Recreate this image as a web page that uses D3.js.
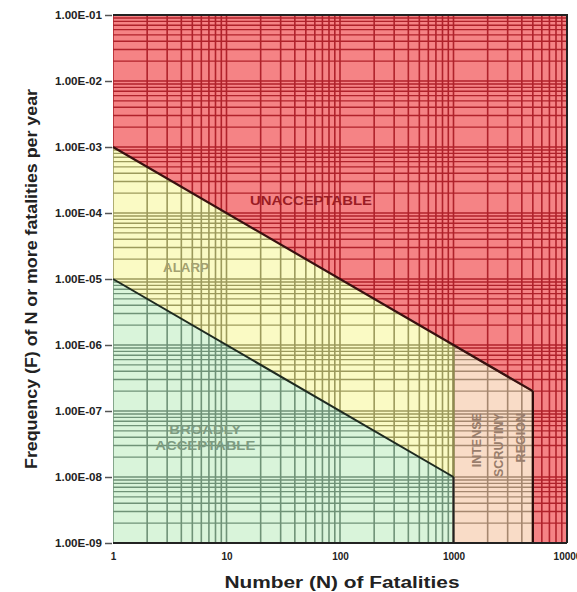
<!DOCTYPE html>
<html>
<head>
<meta charset="utf-8">
<script src="https://cdn.jsdelivr.net/npm/d3@7"></script>
<style>
  body { margin: 0; background: #fff; }
  text { font-family: "Liberation Sans", Arial, sans-serif; }
</style>
</head>
<body>
<div id="chart"></div>
<script>
// axis ticks
const xTicks = [1, 10, 100, 1000, 10000];
const xTickLabels = ["1", "10", "100", "1000", "10000"];
const yTicks = [1e-1, 1e-2, 1e-3, 1e-4, 1e-5, 1e-6, 1e-7, 1e-8, 1e-9];
const yTickLabels = ["1.00E-01", "1.00E-02", "1.00E-03", "1.00E-04", "1.00E-05",
                     "1.00E-06", "1.00E-07", "1.00E-08", "1.00E-09"];

// criterion lines (N, F)
const upperLine = [[1, 1e-3], [1000, 1e-6], [5000, 2e-7]];
const lowerLine = [[1, 1e-5], [1000, 1e-8]];

// zone outlines (N, F)
const unacceptableZone = [[1, 1e-1], [10000, 1e-1], [10000, 1e-9], [5000, 1e-9], [5000, 2e-7], [1000, 1e-6], [1, 1e-3]];
const alarpZone = [[1, 1e-3], [1000, 1e-6], [1000, 1e-8], [1, 1e-5]];
const broadlyZone = [[1, 1e-5], [1000, 1e-8], [1000, 1e-9], [1, 1e-9]];
const intenseZone = [[1000, 1e-6], [5000, 2e-7], [5000, 1e-9], [1000, 1e-9]];

const zoneNames = ["unacceptable", "alarp", "broadly", "intense"];
const zonePolys = [unacceptableZone, alarpZone, broadlyZone, intenseZone];

const W = 577, H = 592;
const margin = {top: 15, right: 10, bottom: 49, left: 113};

const svg = d3.select("#chart").append("svg")
    .attr("width", W)
    .attr("height", H);

const x = d3.scaleLog().domain([1, 10000]).range([margin.left, 567]);
const y = d3.scaleLog().domain([1e-9, 1e-1]).range([543, margin.top]);

// style per zone
const zoneStyle = {
    unacceptable: {fill: "#f58385", grid: "#b0222b"},
    alarp:        {fill: "#fafac4", grid: "#9c9a5c"},
    broadly:      {fill: "#d9f4da", grid: "#6f9277"},
    intense:      {fill: "#f9dcc7", grid: "#a5876f"}
};

// log grid positions
const gridX = [], gridY = [];
for (let e = 0; e < 4; e++) for (let m = 1; m < 10; m++) gridX.push(m * Math.pow(10, e));
gridX.push(10000);
for (let e = -9; e < -1; e++) for (let m = 1; m < 10; m++) gridY.push(m * Math.pow(10, e));
gridY.push(1e-1);

const poly = pts => "M" + pts.map(p => x(p[0]) + "," + y(p[1])).join("L") + "Z";

const defs = svg.append("defs");

zoneNames.forEach((name, i) => {
    defs.append("clipPath").attr("id", "clip-" + name)
        .append("path").attr("d", poly(zonePolys[i]));

    let g = svg.append("g").attr("clip-path", `url(#clip-${name})`);
    let st = zoneStyle[name];

    g.append("path")
        .attr("d", poly(zonePolys[i]))
        .attr("fill", st.fill);

    g.selectAll(".gx").data(gridX).enter().append("line")
        .attr("x1", d => x(d)).attr("x2", d => x(d))
        .attr("y1", y(1e-9)).attr("y2", y(1e-1))
        .attr("stroke", st.grid)
        .attr("stroke-width", 1.6);

    g.selectAll(".gy").data(gridY).enter().append("line")
        .attr("x1", x(1)).attr("x2", x(10000))
        .attr("y1", d => y(d)).attr("y2", d => y(d))
        .attr("stroke", st.grid)
        .attr("stroke-width", 1.4);
});

// zone borders
svg.append("path")
    .attr("d", poly(intenseZone))
    .attr("fill", "none")
    .attr("stroke", "#8f7a62")
    .attr("stroke-width", 2);

svg.append("line")
    .attr("x1", x(1000)).attr("x2", x(1000))
    .attr("y1", y(1e-6)).attr("y2", y(1e-8))
    .attr("stroke", "#8e8c4c").attr("stroke-width", 2);

const line = d3.line().x(d => x(d[0])).y(d => y(d[1]));

svg.append("path")
    .datum(upperLine)
    .attr("d", line)
    .attr("fill", "none")
    .attr("stroke", "#3a1010")
    .attr("stroke-width", 2.2);

svg.append("path")
    .datum(lowerLine)
    .attr("d", line)
    .attr("fill", "none")
    .attr("stroke", "#1e2a20")
    .attr("stroke-width", 2);

svg.append("line")
    .attr("x1", x(1000)).attr("x2", x(1000))
    .attr("y1", y(1e-8)).attr("y2", y(1e-9))
    .attr("stroke", "#222").attr("stroke-width", 2);

svg.append("line")
    .attr("x1", x(5000)).attr("x2", x(5000))
    .attr("y1", y(2e-7)).attr("y2", y(1e-9))
    .attr("stroke", "#2a0808").attr("stroke-width", 2.2);

// frame: top, right, bottom
svg.append("path")
    .attr("d", `M${x(1)},${y(1e-1)}H${x(10000)}V${y(1e-9)}`)
    .attr("fill", "none")
    .attr("stroke", "#222")
    .attr("stroke-width", 2);

svg.append("line")
    .attr("x1", x(1)).attr("x2", x(10000))
    .attr("y1", y(1e-9)).attr("y2", y(1e-9))
    .attr("stroke", "#222").attr("stroke-width", 2);

// axes
const yAxis = d3.axisLeft(y)
    .tickValues(yTicks)
    .tickFormat((d, i) => yTickLabels[i])
    .tickSize(7)
    .tickPadding(3);

const yg = svg.append("g")
    .attr("transform", `translate(${x(1) - 1},0)`)
    .call(yAxis);
yg.select(".domain").remove();
yg.selectAll(".tick line").attr("stroke", "#555").attr("stroke-width", 1.5);
yg.selectAll(".tick text")
    .attr("font-size", 10)
    .attr("font-weight", "bold")
    .attr("fill", "#222")
    .attr("textLength", 47)
    .attr("lengthAdjust", "spacingAndGlyphs");

const xAxis = d3.axisBottom(x)
    .tickValues(xTicks)
    .tickFormat((d, i) => xTickLabels[i])
    .tickSize(0)
    .tickPadding(10);

const xg = svg.append("g")
    .attr("transform", `translate(0,${y(1e-9)})`)
    .call(xAxis);
xg.select(".domain").remove();
xg.selectAll(".tick text")
    .attr("font-size", 10)
    .attr("font-weight", "bold")
    .attr("fill", "#222");

// axis titles
svg.append("text")
    .attr("x", 342)
    .attr("y", 588)
    .attr("text-anchor", "middle")
    .attr("font-size", 16)
    .attr("font-weight", "bold")
    .attr("fill", "#222")
    .attr("textLength", 235)
    .attr("lengthAdjust", "spacingAndGlyphs")
    .text("Number (N) of Fatalities");

svg.append("text")
    .attr("transform", `translate(37,${y(1e-5)}) rotate(-90)`)
    .attr("text-anchor", "middle")
    .attr("font-size", 16)
    .attr("font-weight", "bold")
    .attr("fill", "#222")
    .attr("textLength", 380)
    .attr("lengthAdjust", "spacingAndGlyphs")
    .text("Frequency (F) of N or more fatalities per year");

// zone labels
svg.append("text")
    .attr("x", x(55.5)).attr("y", y(1.32e-4))
    .attr("text-anchor", "middle")
    .attr("font-size", 12.5)
    .attr("font-weight", "bold")
    .attr("fill", "#9a1c24")
    .attr("textLength", 122)
    .attr("lengthAdjust", "spacingAndGlyphs")
    .text("UNACCEPTABLE");

svg.append("text")
    .attr("x", x(4.4)).attr("y", y(1.28e-5))
    .attr("text-anchor", "middle")
    .attr("font-size", 12)
    .attr("font-weight", "bold")
    .attr("fill", "#a3a070")
    .attr("textLength", 46)
    .attr("lengthAdjust", "spacingAndGlyphs")
    .text("ALARP");

const broad = svg.append("text")
    .attr("text-anchor", "middle")
    .attr("font-size", 12)
    .attr("font-weight", "bold")
    .attr("fill", "#7e9c82");
broad.append("tspan").attr("x", x(6.5)).attr("y", y(4.5e-8))
    .attr("textLength", 72).attr("lengthAdjust", "spacingAndGlyphs").text("BROADLY");
broad.append("tspan").attr("x", x(6.5)).attr("dy", 16)
    .attr("textLength", 100).attr("lengthAdjust", "spacingAndGlyphs").text("ACCEPTABLE");

const intense = svg.append("text")
    .attr("transform", `translate(${x(1747)},${y(9.3e-8)}) rotate(-90)`)
    .attr("text-anchor", "end")
    .attr("font-size", 12.5)
    .attr("font-weight", "bold")
    .attr("fill", "#9a7e6c");
["INTENSE", "SCRUTINY", "REGION"].forEach((t, i) => {
    intense.append("tspan").attr("x", 0).attr("y", i * 22).text(t);
});
</script>
</body>
</html>
